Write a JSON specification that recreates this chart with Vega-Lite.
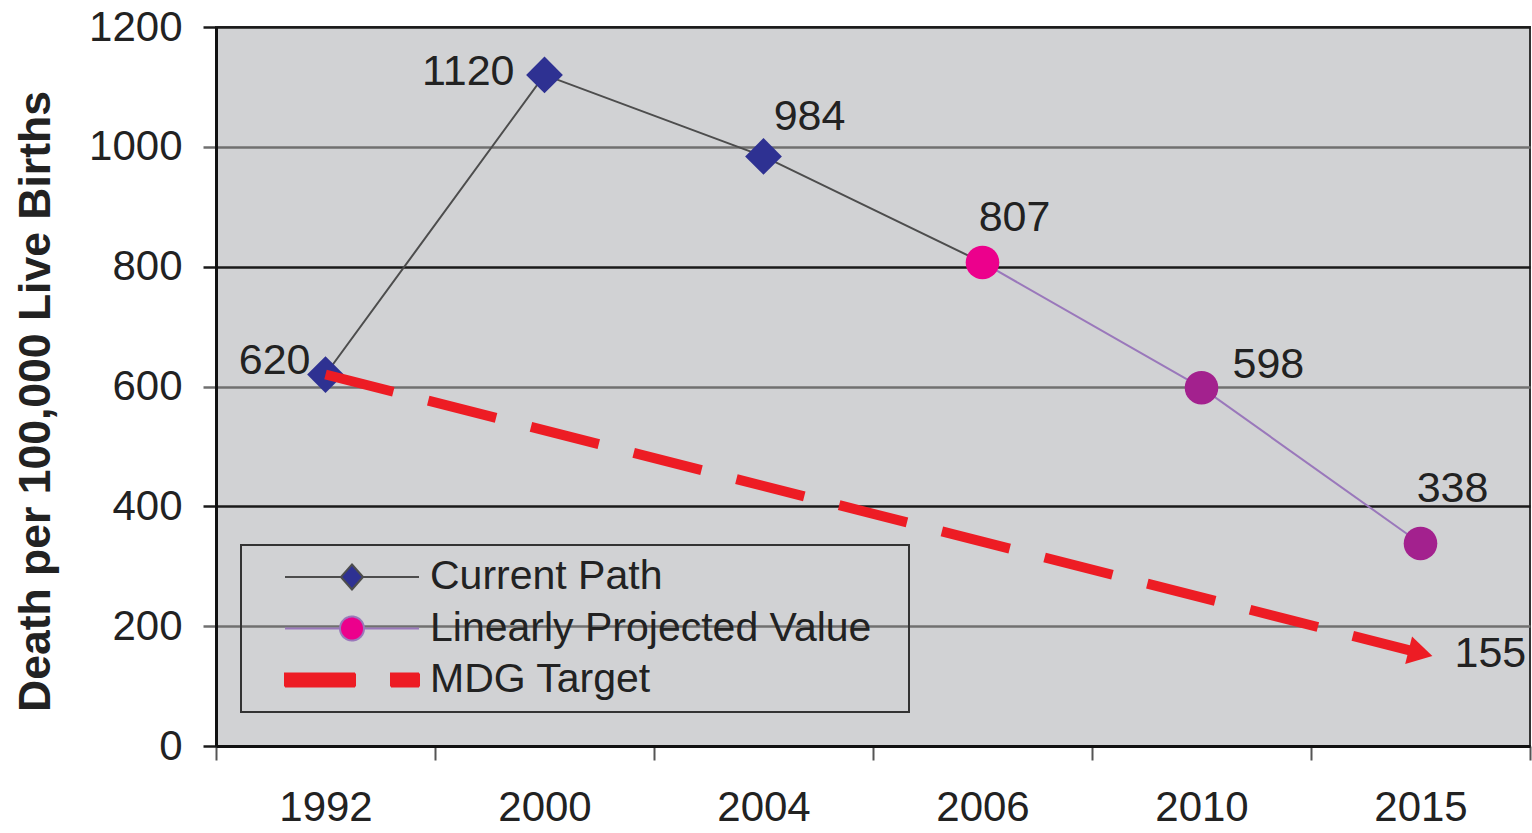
{
  "$schema": "https://vega.github.io/schema/vega-lite/v6.json",
  "width": 1314,
  "height": 719,
  "autosize": "none",
  "padding": {"left": 216, "top": 27, "right": 2, "bottom": 87},
  "background": "white",
  "config": {
    "view": {"fill": "#d1d2d4", "stroke": "#333333", "strokeWidth": 2},
    "font": "Liberation Sans"
  },
  "data": {
    "values": [
      {"year": "1992", "value": 620, "series": "Current Path"},
      {"year": "2000", "value": 1120, "series": "Current Path"},
      {"year": "2004", "value": 984, "series": "Current Path"},
      {"year": "2006", "value": 807, "series": "Current Path"},
      {"year": "2006", "value": 807, "series": "Linearly Projected Value"},
      {"year": "2010", "value": 598, "series": "Linearly Projected Value"},
      {"year": "2015", "value": 338, "series": "Linearly Projected Value"},
      {"year": "1992", "value": 620, "series": "MDG Target"},
      {"year": "2015", "value": 155, "series": "MDG Target"}
    ]
  },
  "encoding": {
    "x": {
      "field": "year", "type": "ordinal",
      "scale": {"type": "band", "paddingInner": 0, "paddingOuter": 0},
      "axis": {
        "title": null, "labelAngle": 0, "labelFontSize": 42, "labelColor": "#222222",
        "labelPadding": 27, "tickBand": "extent", "tickSize": 14, "tickWidth": 2,
        "tickColor": "#555555", "domainColor": "#111111", "domainWidth": 3, "grid": false
      }
    },
    "y": {
      "field": "value", "type": "quantitative",
      "scale": {"domain": [0, 1200], "nice": false},
      "axis": {
        "title": "Death per 100,000 Live Births",
        "values": [0, 200, 400, 600, 800, 1000, 1200],
        "format": "d",
        "grid": true,
        "gridColor": {"condition": {"test": "datum.value % 400 === 0", "value": "#1a1a1a"}, "value": "#707070"},
        "gridWidth": 2.5,
        "tickColor": {"condition": {"test": "datum.value % 400 === 0", "value": "#1a1a1a"}, "value": "#707070"},
        "tickSize": 13, "tickWidth": 2.5,
        "domainColor": "#111111", "domainWidth": 3,
        "labelFontSize": 42, "labelPadding": 21, "labelColor": "#222222",
        "titleFontSize": 44.5, "titleFontWeight": "bold", "titleColor": "#222222",
        "titleAngle": 270, "titleX": -167, "titleY": 374, "titleAlign": "center", "titleBaseline": "alphabetic"
      }
    }
  },
  "layer": [
    {
      "transform": [{"filter": "datum.series === 'Current Path'"}],
      "mark": {"type": "line", "strokeWidth": 2},
      "encoding": {
        "color": {
          "field": "series", "type": "nominal",
          "scale": {"domain": ["Current Path", "Linearly Projected Value", "MDG Target"], "range": ["#4d4d4d", "#9a78bb", "#ed1c24"]},
          "legend": {
            "title": null, "orient": "none", "legendX": 25, "legendY": 518,
            "padding": 11.5, "rowPadding": 9.5, "symbolSize": 400, "symbolOffset": 79, "labelOffset": 57.5,
            "labelFontSize": 41, "labelColor": "#222222", "labelFont": "Liberation Sans", "labelLimit": 1000,
            "strokeColor": "#333333",
            "encode": {
              "legend": {"update": {"strokeWidth": {"value": 2}}},
              "symbols": {"update": {
                "shape": {"signal": "datum.value === 'Current Path' ? 'M-6.7,0H-1.1M1.1,0H6.7M0,-1.25L1.1,0L0,1.25L-1.1,0ZM54.1,0' : datum.value === 'Linearly Projected Value' ? 'M-6.7,0H-1.2M1.2,0H6.7M-1.2,0A1.2,1.2 0 1,0 1.2,0A1.2,1.2 0 1,0 -1.2,0ZM54.1,0' : 'M-6.7,-0.65H0.3V0.65H-6.7ZM3.9,-0.65H6.7V0.65H3.9ZM54.1,0'"},
                "fill": {"signal": "datum.value === 'Current Path' ? '#2e3192' : datum.value === 'Linearly Projected Value' ? '#ec008c' : '#ed1c24'"},
                "stroke": {"signal": "datum.value === 'Current Path' ? '#555555' : datum.value === 'Linearly Projected Value' ? '#9a78bb' : '#ed1c24'"},
                "strokeWidth": {"value": 2},
                "strokeDash": {"value": [1, 0]},
                "opacity": {"value": 1},
                "fillOpacity": {"value": 1}
              }}
            }
          }
        }
      }
    },
    {
      "transform": [{"filter": "datum.series === 'Linearly Projected Value'"}],
      "mark": {"type": "line", "strokeWidth": 2},
      "encoding": {
        "color": {"field": "series", "type": "nominal"}
      }
    },
    {
      "transform": [{"filter": "datum.series === 'Linearly Projected Value'"}],
      "mark": {"type": "point", "shape": "circle", "filled": true, "size": 1130, "opacity": 1},
      "encoding": {
        "fill": {"condition": {"test": "datum.year === '2006'", "value": "#ec008c"}, "value": "#a3218e"}
      }
    },
    {
      "transform": [{"filter": "datum.series === 'Current Path' && datum.year !== '2006'"}],
      "mark": {"type": "point", "shape": "diamond", "filled": true, "size": 1350, "opacity": 1, "color": "#2e3192"}
    },
    {
      "transform": [{"filter": "datum.series === 'MDG Target'"}],
      "mark": {"type": "line", "strokeWidth": 10, "strokeDash": [70, 36]},
      "encoding": {
        "color": {"field": "series", "type": "nominal"}
      }
    },
    {
      "transform": [{"filter": "datum.series === 'MDG Target' && datum.year === '2015'"}],
      "mark": {"type": "point", "shape": "triangle-right", "filled": true, "size": 800, "angle": 14, "opacity": 1, "color": "#ed1c24"}
    },
    {
      "transform": [{"filter": "datum.series === 'Current Path' && datum.year === '1992'"}],
      "mark": {"type": "text", "align": "right", "baseline": "middle", "dx": -15, "dy": -14, "fontSize": 43, "color": "#222222"},
      "encoding": {"text": {"field": "value", "type": "quantitative"}}
    },
    {
      "transform": [{"filter": "datum.series === 'Current Path' && datum.year === '2000'"}],
      "mark": {"type": "text", "align": "right", "baseline": "middle", "dx": -30, "dy": -3, "fontSize": 43, "color": "#222222"},
      "encoding": {"text": {"field": "value", "type": "quantitative"}}
    },
    {
      "transform": [{"filter": "datum.series === 'Current Path' && datum.year === '2004'"}],
      "mark": {"type": "text", "align": "center", "baseline": "middle", "dx": 46, "dy": -39, "fontSize": 43, "color": "#222222"},
      "encoding": {"text": {"field": "value", "type": "quantitative"}}
    },
    {
      "transform": [{"filter": "datum.series === 'Current Path' && datum.year === '2006'"}],
      "mark": {"type": "text", "align": "center", "baseline": "middle", "dx": 32, "dy": -44, "fontSize": 43, "color": "#222222"},
      "encoding": {"text": {"field": "value", "type": "quantitative"}}
    },
    {
      "transform": [{"filter": "datum.series === 'Linearly Projected Value' && datum.year === '2010'"}],
      "mark": {"type": "text", "align": "left", "baseline": "middle", "dx": 31, "dy": -23, "fontSize": 43, "color": "#222222"},
      "encoding": {"text": {"field": "value", "type": "quantitative"}}
    },
    {
      "transform": [{"filter": "datum.series === 'Linearly Projected Value' && datum.year === '2015'"}],
      "mark": {"type": "text", "align": "center", "baseline": "middle", "dx": 32, "dy": -54, "fontSize": 43, "color": "#222222"},
      "encoding": {"text": {"field": "value", "type": "quantitative"}}
    },
    {
      "transform": [{"filter": "datum.series === 'MDG Target' && datum.year === '2015'"}],
      "mark": {"type": "text", "align": "left", "baseline": "middle", "dx": 34, "dy": 1, "fontSize": 43, "color": "#222222"},
      "encoding": {"text": {"field": "value", "type": "quantitative"}}
    }
  ]
}
